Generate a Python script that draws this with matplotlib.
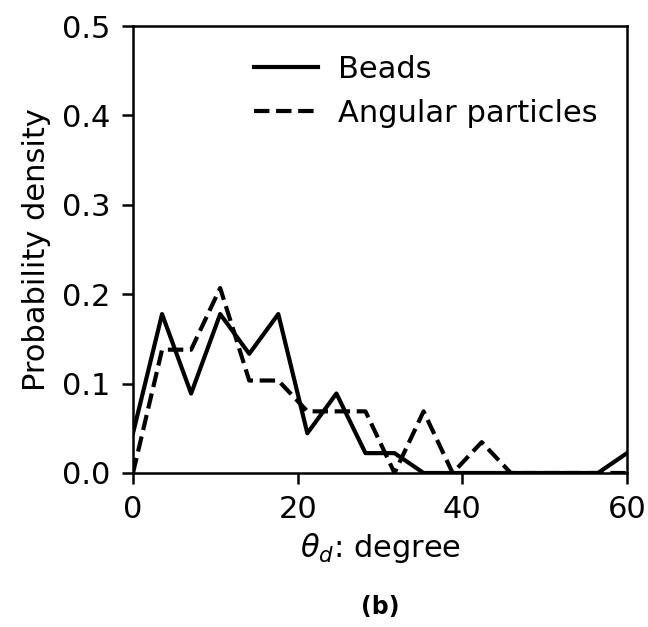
import numpy as np
import matplotlib
matplotlib.use("Agg")
import matplotlib.pyplot as plt

theta = np.linspace(0, 60, 18)
beads_counts = [2, 8, 4, 8, 6, 8, 2, 4, 1, 1, 0, 0, 0, 0, 0, 0, 0, 1]
angular_counts = [0, 4, 4, 6, 3, 3, 2, 2, 2, 0, 2, 0, 1, 0, 0, 0, 0, 0]
beads = np.array(beads_counts) / 45.0
angular = np.array(angular_counts) / 29.0

fig = plt.figure(figsize=(6.48, 6.27), dpi=100)
ax = fig.add_axes([133/648, 1-473/627, (627-133)/648, (473-26)/627])
ax.plot(theta, beads, 'k-', lw=3.0, label='Beads')
ax.plot(theta, angular, 'k--', lw=3.0, label='Angular particles')
ax.set_xlim(0, 60)
ax.set_ylim(0, 0.5)
ax.set_xticks([0, 20, 40, 60])
ax.set_yticks([0.0, 0.1, 0.2, 0.3, 0.4, 0.5])
ax.tick_params(labelsize=22, width=1.8, length=8, pad=8)
for s in ax.spines.values():
    s.set_linewidth(1.8)
ax.set_xlabel(r'$\theta_d$: degree', fontsize=22, labelpad=5)
ax.set_ylabel('Probability density', fontsize=22, labelpad=8)
ax.legend(loc='upper left', frameon=False, fontsize=22, handlelength=2.1,
          handletextpad=0.65, bbox_to_anchor=(0.189, 0.997))
ax.text(0.5, -0.30, '(b)', transform=ax.transAxes, ha='center', va='center',
        fontsize=17, fontweight='bold')
fig.savefig('out.png', dpi=100)
